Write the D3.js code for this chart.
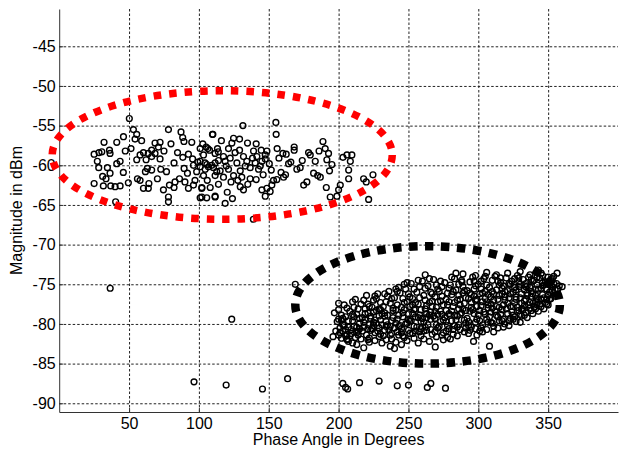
<!DOCTYPE html>
<html>
<head>
<meta charset="utf-8">
<script src="https://cdn.jsdelivr.net/npm/d3@7"></script>
<style>
  body { margin: 0; background: #fff; }
  svg { display: block; font-family: "Liberation Sans", Arial, sans-serif; }
</style>
</head>
<body>
<svg id="chart" width="626" height="452"></svg>
<script>
const xTicks = [50, 100, 150, 200, 250, 300, 350];
const yTicks = [-45, -50, -55, -60, -65, -70, -75, -80, -85, -90];

// [phase deg, magnitude dBm]
const redCluster = [
  [50.2,-54.1],[53.1,-55.5],[55.5,-56.1],[54.3,-56.7],[51.4,-57.9],
  [32.1,-57.1],[41.2,-57.1],
  [25,-58.6],[28.5,-58.4],[30.5,-58.3],[36.4,-58.5],[36,-58.1],
  [43.6,-59.5],[41.2,-59.8],[27.3,-59.5],[28.3,-60.3],
  [34.5,-60.3],[36.4,-61],[33.5,-61.7],[31.1,-61.4],
  [25,-62.3],[31.6,-62.6],[36.9,-62.6],[40,-62.7],[43.6,-62.6],
  [49.5,-62.2],[40.4,-64.6],
  [57.9,-58.7],[60.3,-58.4],[63.8,-58.5],[66.2,-58.9],[68.6,-58.5],
  [68.6,-57.2],[72.2,-57.1],[71,-57.7],[66.2,-58.1],
  [78.2,-55.5],[87.2,-55.8],[88.4,-56.5],[89.3,-57],[94.9,-57.1],
  [100.9,-57.9],[102.8,-57.3],[106.4,-57.9],[110,-56.1],
  [55.5,-59.3],[62.2,-59.3],[63.1,-60.4],[61.7,-60.8],[66.2,-60.6],
  [56,-61.7],[57.9,-61.9],[60.3,-62.9],[63.8,-62.9],[64.2,-62.3],
  [74.6,-63.1],[78.9,-62.5],[82.2,-62.8],[82.9,-62.1],[92.5,-62.9],
  [96.1,-62.5],[102.1,-62.9],[102.1,-64],[105.6,-64.1],[111.6,-64],
  [78.2,-64],[78.2,-64.6],
  [70.3,-61.7],[76.8,-60.8],[82.2,-59.7],[89.4,-60.4],[91.8,-61],
  [88.5,-59],[92.5,-58.6],[96.1,-60],[99.2,-59.6],[100.9,-60.2],
  [104.4,-59.7],[106.8,-60.2],[109.2,-60],[112.8,-60.8],[114,-59.4],
  [72.2,-59.2],[72.7,-60.5],
  [131.5,-55],[155.1,-54.6],[155.3,-56.1],
  [109.7,-56.1],[124.8,-56.6],[129.1,-56.7],[123.6,-57.2],[134.8,-57.2],[141,-57.3],
  [105.2,-57.7],[107.6,-58.1],[113.3,-57.9],[121.2,-57.9],[129.1,-58.1],[139.1,-58.2],[148.7,-58.2],
  [103.3,-58.7],[111.6,-58.5],[117.6,-58.9],[122.4,-59.1],[131.9,-58.9],[141.5,-58.9],[147.5,-58.7],
  [100.9,-59.5],[105.7,-59.9],[111.6,-59.7],[118.8,-59.5],[127.2,-59.7],[134.3,-59.5],[140.3,-59.7],[145.1,-59.5],[147.5,-59.2],
  [104.5,-60.5],[110.4,-60.3],[115.2,-60.7],[121.2,-60.5],[129.6,-60.7],[136.7,-60.3],[142.7,-60.5],
  [103.3,-61.3],[111.6,-61.3],[117.6,-61.5],[124.8,-61.3],[130.7,-61.5],[136.7,-61.7],
  [102.1,-62.8],[108.1,-62.8],[129.6,-62.7],[131.9,-63.1],[145.1,-63.1],[148.7,-62.9],
  [100.9,-64.1],[111.6,-63.9],[118.8,-64.8],
  [147.5,-63.9],[151,-63.3],[152.2,-62.5],
  [153.4,-61.9],[155.8,-61.8],[160.6,-61.5],[164.2,-59.8],[165.8,-59.6],
  [160.1,-58.5],[162.5,-58.6],[168.2,-57.7],[168.2,-58.1],
  [170.1,-60.5],[172.5,-60.3],[175,-62.5],[177.3,-62.1],[178.5,-58.4],[179.7,-58.7],
  [182.1,-61],[183.3,-59.5],[185,-61.3],[186.9,-61.5],[188.8,-57],[190.4,-57.9],
  [191.2,-62.8],[191.6,-59.3],[192.8,-58.5],[193.5,-60.7],[195.2,-59.9],
  [194,-64],[198.8,-63.9],[200,-63.1],[201.2,-62.5],[203.1,-59],
  [206,-58.7],[208.4,-59.5],[207.2,-60.6],[207.2,-61.7],[209.5,-58.7],
  [217.9,-61.7],[219.8,-62.1],[221.5,-64.3],[224.6,-61.2],
  [139,-66.8],
  [95.5,-59.2],[98.4,-60.8],[113.9,-58.3],[119.6,-60.1],[125.9,-58.4],[127.9,-61.9],
  [133.2,-60.1],[138.4,-59.1],[143.9,-60.1],[144.6,-58.1],[150.4,-59.8],[151.8,-60.6],
  [157.3,-59.1],[158.8,-60.9],[97.2,-61.9],[120.3,-63.4],[116.1,-56.9],[86.1,-61.7],
  [84.7,-58.4],[45.9,-60.9],[47.3,-58.2],
  [106,-61.9],[114,-62.4],[123,-62.1],[135,-62.4],[141,-61.8],[146,-61.2],[156,-57.9],
  [162,-61.2],[174,-59.4],[186,-58.2],[124,-64.2],[90,-62.1],[75,-58.2],[80,-57.3],
  [59,-56.9],[46,-56.4]
];

const blackCluster = [
  [197,-78.6],[198,-80.9],[196,-81.6],[199,-79.7],
  [200,-78.2],[201,-80.5],[202,-81.8],[200,-79.4],[203,-80.9],
  [204,-77.6],[205,-79.1],[206,-81.3],[204,-80.2],[207,-82.2],
  [208,-78.4],[209,-80.7],[210,-79.6],[208,-81.5],[211,-77.9],[210,-82.4],
  [212,-76.9],[213,-78.8],[214,-80.9],[212,-81.7],[215,-79.9],[213,-82.6],
  [216,-77.5],[217,-79.2],[218,-80.4],[216,-81.9],[219,-78.1],[218,-83],
  [220,-76.4],[221,-78.6],[222,-80.1],[220,-81.4],[223,-79.3],[222,-82.3],[221,-77.5],
  [224,-77.9],[225,-79.8],[226,-81.1],[224,-80.6],[227,-76.8],[226,-82.1],[225,-78.5],
  [228,-76.2],[229,-78.1],[230,-79.5],[228,-80.9],[231,-82.4],[230,-77.3],[229,-81.6],
  [232,-77.8],[233,-79],[234,-80.3],[232,-81.5],[235,-76.5],[234,-82],[233,-78.6],
  [236,-75.9],[237,-77.4],[238,-79.6],[236,-80.8],[239,-78.3],[238,-81.9],[237,-82.8],
  [240,-76.7],[241,-78.2],[242,-79.4],[240,-80.5],[243,-81.4],[242,-77.6],[241,-82.3],[243,-75.4],
  [244,-76.1],[245,-77.9],[246,-79.1],[244,-80.2],[247,-81.7],[246,-78.6],[245,-82.6],[247,-75],
  [248,-75.6],[249,-77.2],[250,-78.7],[248,-80],[251,-81.2],[250,-79.5],[249,-82.1],[251,-76.6],
  [252,-74.9],[253,-76.8],[254,-78.2],[252,-79.6],[255,-80.9],[254,-81.8],[253,-77.6],[255,-79.1],
  [256,-76],[257,-77.5],[258,-78.9],[256,-80.4],[259,-81.5],[258,-75.3],[257,-82.4],[259,-79.7],
  [260,-74.6],[261,-76.4],[262,-78.1],[260,-79.3],[263,-80.8],[262,-77],[261,-81.9],[263,-78.7],
  [264,-75.2],[265,-77.3],[266,-78.5],[264,-80.1],[267,-81.3],[266,-79.4],[265,-82.2],[267,-76.2],
  [268,-74.4],[269,-76.6],[270,-77.9],[268,-79],[271,-80.5],[270,-81.6],[269,-78.4],[271,-75.6],
  [272,-75.9],[273,-77.1],[274,-78.8],[272,-80.3],[275,-81.1],[274,-76.5],[273,-79.7],[275,-82],
  [276,-74.8],[277,-76.9],[278,-77.6],[276,-79.2],[279,-80.6],[278,-81.7],[277,-78.3],[279,-75.5],
  [280,-75.1],[281,-76.3],[282,-77.8],[280,-78.9],[283,-80.2],[282,-81.3],[281,-79.6],[283,-74.3],
  [284,-75.7],[285,-77],[286,-78.1],[284,-79.5],[287,-80.7],[286,-76.4],[285,-81.5],[287,-78.8],
  [288,-74.5],[289,-76.1],[290,-77.4],[288,-78.6],[291,-79.9],[290,-81],[289,-75.3],[291,-80.5],
  [292,-75.8],[293,-76.8],[294,-78.4],[292,-79.3],[295,-80.4],[294,-74.7],[293,-81.2],[295,-77.3],
  [296,-74.1],[297,-75.6],[298,-77],[296,-78.2],[299,-79.4],[298,-80.6],[297,-76.5],[299,-81.4],
  [300,-75],[301,-76.2],[302,-77.7],[300,-78.9],[303,-80.1],[302,-74.6],[301,-79.6],[303,-81],
  [304,-74.3],[305,-75.9],[306,-77.2],[304,-78.5],[307,-79.8],[306,-80.7],[305,-76.8],[307,-78],
  [308,-75.4],[309,-76.6],[310,-78],[308,-79.1],[311,-80.3],[310,-74.5],[309,-77.5],[311,-81],
  [312,-74],[313,-75.7],[314,-76.9],[312,-78.4],[315,-79.6],[314,-80.5],[313,-77.8],[315,-75.1],
  [316,-74.8],[317,-76.2],[318,-77.6],[316,-78.8],[319,-80],[318,-79.4],[317,-75.5],[319,-77],
  [320,-74.2],[321,-75.8],[322,-76.7],[320,-78.1],[323,-79.3],[322,-80.2],[321,-77.4],[323,-75],
  [324,-74.6],[325,-76],[326,-77.3],[324,-78.5],[327,-79.7],[326,-75.4],[325,-78.9],[327,-76.6],
  [328,-73.9],[329,-75.3],[330,-76.7],[328,-77.9],[331,-79],[330,-79.8],[329,-74.7],[331,-77.4],
  [332,-74.4],[333,-75.7],[334,-76.9],[332,-78.2],[335,-79.2],[334,-74.9],[333,-77.7],[335,-76.1],
  [336,-74.1],[337,-75.4],[338,-76.5],[336,-77.6],[339,-78.7],[338,-75.9],[337,-78],[339,-74.6],
  [340,-74.5],[341,-75.6],[342,-76.8],[340,-77.9],[343,-78.4],[342,-75.1],[341,-77.2],
  [344,-74.2],[345,-75.5],[346,-76.3],[344,-77.5],[347,-78.1],[346,-74.8],[345,-76.9],
  [348,-74.7],[349,-75.6],[350,-76.4],[348,-77.3],[351,-75.1],[350,-77.6],
  [352,-74.4],[353,-75.3],[354,-76.1],[352,-76.8],[355,-75.7],
  [356,-74.9],[357,-75.6],[358,-75.2],[356,-76.3],[360,-75.3],
  [262,-73.8],[284,-73.6],[306,-73.5],[330,-73.4],[343,-73.2],[298,-73.9],
  [288.3,-74.7],[315.8,-74.2],[356.4,-73.6],
  [269.2,-82.9],[308,-82.8],[280,-81.9],[296.6,-82.2],[240,-83.1],[200,-81.4],[206,-82],
  // second pass through the dense core
  [202,-78.9],[203,-80.1],[201,-81.1],[202,-79.5],
  [206,-78],[207,-79.6],[205,-80.7],[206,-81.9],
  [210,-78.8],[211,-80.3],[209,-81.2],[210,-77.2],
  [214,-78.1],[215,-79.3],[213,-80.4],[214,-81.4],
  [218,-77],[219,-78.7],[217,-80.9],[218,-79.8],
  [222,-77.8],[223,-79],[221,-80.6],[222,-81.8],
  [226,-76.5],[227,-78.3],[225,-80.2],[226,-79.5],
  [230,-78.2],[231,-80.1],[229,-79],[230,-81.3],
  [234,-77.2],[235,-78.9],[233,-80.8],[234,-79.7],
  [238,-76.8],[239,-78],[237,-80.3],[238,-81.2],
  [242,-75.9],[243,-78.9],[241,-79.9],[242,-81],
  [246,-76.8],[247,-78.2],[245,-80.6],[246,-81.5],
  [250,-76.2],[251,-77.8],[249,-79.9],[250,-80.8],
  [254,-75.6],[255,-77.3],[253,-78.7],[254,-80.3],
  [258,-76.7],[259,-78.2],[257,-79.2],[258,-81],
  [262,-75.5],[263,-77.7],[261,-79.8],[262,-80.4],
  [266,-76],[267,-77.8],[265,-78.9],[266,-80.7],
  [270,-75.1],[271,-77.2],[269,-79.3],[270,-80.1],
  [274,-75.3],[275,-77.6],[273,-78.4],[274,-81.4],
  [278,-76.1],[279,-78.7],[277,-79.7],[278,-80.2],
  [282,-75.9],[283,-77.3],[281,-78.4],[282,-80.7],
  [286,-75],[287,-77.6],[285,-79],[286,-80.1],
  [290,-75.8],[291,-76.7],[289,-78.1],[290,-79.5],
  [294,-76.1],[295,-77.9],[293,-79.7],[294,-80.8],
  [298,-75.2],[299,-76.9],[297,-78.7],[298,-79.8],
  [302,-75.6],[303,-77.2],[301,-78.3],[302,-80.5],
  [306,-75.1],[307,-76.3],[305,-78.8],[306,-79.4],
  [310,-75.9],[311,-77],[309,-78.5],[310,-79.9],
  [314,-74.6],[315,-76.4],[313,-78.9],[314,-79.1],
  [318,-75.2],[319,-76.6],[317,-78.2],[318,-80.4],
  [322,-74.9],[323,-76.2],[321,-78.7],[322,-79.6],
  [326,-74.3],[327,-76.9],[325,-77.8],[326,-79.1],
  [330,-75],[331,-76.2],[329,-78.3],[330,-78.8],
  [334,-75.3],[335,-76.4],[333,-77.1],[334,-78.6],
  [338,-74.4],[339,-76.2],[337,-77.3],[338,-78.3],
  [342,-74.1],[343,-75.6],[341,-76.4],[342,-77.6],
  [346,-75.2],[347,-76.7],[345,-77.8],[346,-73.9],
  [350,-75],[351,-76],[349,-76.9],[350,-74.1],
  [354,-74.9],[355,-76.5],[353,-75.8],[354,-74],
  // third pass
  [203,-79.3],[207,-80.4],[211,-79.1],[215,-80.6],[219,-79.5],[223,-80.8],[227,-79.9],
  [231,-78.7],[235,-80.1],[239,-79.2],[243,-80.3],[247,-77.3],[251,-79.6],[255,-78.1],
  [259,-80.6],[263,-79.2],[267,-77.1],[271,-78.8],[275,-79.5],[279,-77.2],[283,-78.9],
  [287,-76.9],[291,-78.3],[295,-76.3],[299,-77.8],[303,-76.1],[307,-77.6],[311,-76.2],
  [315,-77.9],[319,-75.9],[323,-77.8],[327,-75.7],[331,-78.1],[335,-75.2],[339,-77.4],
  [343,-76.9],[347,-75.1],[351,-76.9],
  [205,-81.5],[213,-81.1],[221,-82],[229,-80.5],[237,-81.4],[245,-81.1],[253,-81.2],
  [261,-80.9],[269,-81],[277,-80.9],[285,-80.4],[293,-80.2],[301,-80.9],[309,-79.8],
  [317,-79.6],[325,-79.4],[333,-78.9],[341,-78.1],[349,-77.5],
  [225,-77],[233,-76.2],[241,-75.6],[249,-74.8],[257,-74.5],[265,-74.3],[273,-74.6],
  [281,-74.1],[289,-73.7],[297,-74.6],[305,-74],[313,-73.8],[321,-73.6],[329,-74.2],
  [337,-73.8],[345,-73.6],[353,-74.3]
];

const strayPoints = [
  [36.5,-75.5],[123.5,-79.4],[169,-75],[200,-77.4],
  [96.5,-87.3],[119.5,-87.7],[145.5,-88.2],[163.5,-86.9],
  [203,-87.5],[205,-88],[206.5,-88.2],[215,-87.4],[229,-87.2],
  [242,-87.8],[250,-87.7],[263.5,-88],[266,-87.5],[276.5,-88.1]
];

// highlight rings: [cx, cy, rx, ry] in data units
const redRing = [116.7, -58.7, 121.7, 8.1];
const blackRing = [263.7, -77.6, 94.7, 7.4];

const svg = d3.select('#chart');
const x = d3.scaleLinear().domain([0, 400]).range([59.2, 618]);
const y = d3.scaleLinear().domain([-91.1, -40.3]).range([412, 9]);

const plotLeft = x.range()[0], plotRight = x.range()[1];
const plotBottom = y.range()[0], plotTop = y.range()[1];

// dotted grid
svg.append('g')
  .attr('transform', `translate(0,${plotBottom})`)
  .call(d3.axisBottom(x).tickValues(xTicks).tickSize(-(plotBottom - plotTop)).tickFormat(''))
  .call(g => g.select('.domain').remove())
  .selectAll('line')
  .attr('stroke', '#222')
  .attr('stroke-dasharray', '2.5,2');

svg.append('g')
  .attr('transform', `translate(${plotLeft},0)`)
  .call(d3.axisLeft(y).tickValues(yTicks).tickSize(-(plotRight - plotLeft)).tickFormat(''))
  .call(g => g.select('.domain').remove())
  .selectAll('line')
  .attr('stroke', '#222')
  .attr('stroke-dasharray', '2.5,2');

// axes, ticks pointing inward, plain hyphen minus like the original
const xAxis = svg.append('g')
  .attr('transform', `translate(0,${plotBottom})`)
  .call(d3.axisBottom(x).tickValues(xTicks).tickFormat(d => String(d))
    .tickSizeInner(-4).tickSizeOuter(0).tickPadding(6));

const yAxis = svg.append('g')
  .attr('transform', `translate(${plotLeft},0)`)
  .call(d3.axisLeft(y).tickValues(yTicks).tickFormat(d => String(d))
    .tickSizeInner(-4).tickSizeOuter(0).tickPadding(3.5));

[xAxis, yAxis].forEach(g => {
  g.attr('font-family', null).attr('font-size', null);
  g.select('.domain').attr('stroke', '#333');
  g.selectAll('line').attr('stroke', '#333');
  g.selectAll('text').attr('fill', '#000').style('font-size', '16px');
});

svg.append('text')
  .attr('x', (plotLeft + plotRight) / 2)
  .attr('y', 445)
  .attr('text-anchor', 'middle')
  .style('font-size', '16px')
  .text('Phase Angle in Degrees');

svg.append('text')
  .attr('transform', `translate(22,${(plotTop + plotBottom) / 2}) rotate(-90)`)
  .attr('text-anchor', 'middle')
  .style('font-size', '16px')
  .text('Magnitude in dBm');

// markers
const allPoints = redCluster.concat(blackCluster, strayPoints);
svg.append('g')
  .selectAll('circle')
  .data(allPoints)
  .join('circle')
  .attr('cx', d => x(d[0]))
  .attr('cy', d => y(d[1]))
  .attr('r', 2.9)
  .attr('fill', 'none')
  .attr('stroke', '#000')
  .attr('stroke-width', 1.4);

function drawRing(ring, color, width, dash) {
  svg.append('ellipse')
    .attr('cx', x(ring[0]))
    .attr('cy', y(ring[1]))
    .attr('rx', x(ring[0] + ring[2]) - x(ring[0]))
    .attr('ry', y(ring[1] - ring[3]) - y(ring[1]))
    .attr('fill', 'none')
    .attr('stroke', color)
    .attr('stroke-width', width)
    .attr('stroke-dasharray', dash);
}

drawRing(redRing, '#ff0000', 7.5, '7.5,8');
drawRing(blackRing, '#000', 8.5, '8.5,7.5');
</script>
</body>
</html>
